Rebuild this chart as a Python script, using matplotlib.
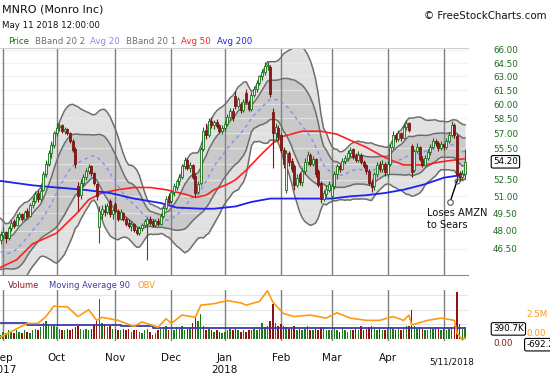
import matplotlib
matplotlib.use('Agg')
import matplotlib.pyplot as plt
import matplotlib.transforms as mtransforms
from matplotlib.ticker import NullLocator, NullFormatter
import numpy as np
import pandas as pd

# trading calendar
holidays = ['2017-09-04', '2017-11-23', '2017-12-25', '2018-01-01',
            '2018-01-15', '2018-02-19', '2018-03-30']
days = pd.bdate_range('2017-08-31', '2018-05-11')
days = days[~days.isin(pd.to_datetime(holidays))]

# closes of the 20 sessions before the chart (for the 20-day bands)
aug_closes = [49.5, 49.0, 48.6, 48.0, 47.2, 46.5, 45.8, 45.2, 44.6, 44.3,
              44.0, 44.5, 45.0, 45.3, 45.8, 46.0, 46.4, 46.8, 47.0, 47.3]

opens = [
    47.2, 47.6, 47.9, 47.4, 48.2, 48.8, 48.5, 49.2, 49.4, 49.0, 49.7, 49.3, 50.2, 50.6, 51.3, 50.8, 51.6, 53.0, 54.0, 55.0, 55.8,
    57.0, 57.6, 57.8, 57.2, 57.4, 57.0, 56.2, 55.4, 51.9, 51.1, 52.2, 52.8, 53.3, 53.8, 53.1, 52.1, 48.3, 49.4, 49.8, 49.6, 50.6, 49.4,
    50.3, 49.7, 49.0, 49.5, 49.0, 48.7, 48.4, 48.6, 48.1, 47.8, 48.2, 48.5, 48.6, 49.0, 48.8, 48.5, 48.8, 48.6, 49.3, 50.0, 51.0,
    50.6, 51.4, 51.8, 52.4, 52.8, 53.8, 54.4, 53.6, 53.9, 52.9, 51.4, 52.2, 55.4, 57.3, 56.8, 58.2, 57.8, 58.1, 57.8, 57.2,
    57.5, 57.9, 58.7, 59.3, 60.9, 59.8, 60.0, 59.4, 61.2, 60.2, 59.5, 61.0, 61.6, 62.3, 63.0, 63.5, 64.2, 64.0, 59.2, 57.0, 57.5,
    56.8, 55.3, 51.6, 55.0, 54.3, 53.8, 52.0, 53.0, 52.3, 53.3, 54.2, 54.9, 54.0, 54.5, 53.3, 52.2, 50.8, 51.2, 51.6,
    51.0, 51.9, 53.0, 53.8, 53.5, 54.3, 54.6, 55.0, 55.4, 54.8, 54.4, 54.9, 54.2, 53.9, 53.3, 52.3, 51.9, 53.0, 54.0, 53.5, 54.0,
    53.0, 54.0, 55.6, 56.8, 56.4, 57.0, 56.5, 57.6, 58.0, 55.7, 53.4, 55.2, 55.6, 54.5, 53.9, 54.6, 55.1, 55.6, 56.2, 56.0, 55.5,
    55.9, 55.6, 56.2, 56.8, 57.8, 56.7, 53.1, 52.8, 53.0,
]
highs = [
    48.0, 48.3, 48.0, 48.4, 48.9, 49.0, 49.4, 49.6, 49.5, 49.8, 50.0, 50.4, 50.9, 51.5, 51.6, 51.8, 53.3, 54.4, 55.3, 56.2, 57.2,
    58.0, 58.0, 57.9, 57.6, 57.5, 57.1, 56.4, 55.6, 52.3, 52.6, 53.0, 53.6, 54.0, 53.9, 53.2, 52.2, 50.1, 50.2, 50.3, 50.4, 50.8, 50.0,
    50.5, 49.9, 49.9, 49.6, 49.2, 49.0, 48.8, 48.7, 48.3, 48.4, 48.7, 49.0, 49.2, 49.3, 49.0, 49.0, 49.1, 49.5, 50.2, 51.0, 51.3,
    51.6, 52.2, 52.6, 53.0, 54.0, 54.7, 54.6, 54.2, 54.0, 53.1, 52.4, 55.6, 57.6, 58.0, 58.5, 58.6, 58.3, 58.4, 57.9, 57.8,
    58.2, 59.0, 59.6, 59.6, 61.4, 60.8, 60.2, 60.5, 61.6, 60.4, 61.3, 61.9, 62.6, 63.2, 63.8, 64.6, 64.6, 64.3, 59.6, 58.0, 57.8,
    57.0, 55.6, 55.3, 55.2, 54.6, 54.0, 53.0, 53.2, 53.6, 54.6, 55.2, 55.0, 54.8, 54.6, 53.5, 52.4, 51.6, 52.0, 52.4,
    52.2, 53.3, 54.0, 54.0, 54.6, 54.9, 55.3, 55.6, 55.5, 55.0, 55.2, 55.0, 54.4, 54.0, 53.5, 52.6, 53.2, 54.2, 54.3, 54.4, 54.2,
    54.3, 55.9, 57.2, 57.0, 57.3, 57.1, 57.9, 58.3, 58.1, 55.9, 55.4, 56.0, 55.7, 54.8, 54.9, 55.4, 55.9, 56.5, 56.4, 56.2, 56.2,
    56.0, 56.5, 57.1, 58.2, 58.0, 56.9, 53.3, 53.4, 55.4,
]
lows = [
    46.9, 47.3, 47.0, 47.2, 48.0, 48.2, 48.4, 48.9, 48.8, 48.9, 49.1, 49.2, 50.0, 50.4, 50.5, 50.6, 51.5, 52.8, 53.8, 54.6, 55.5,
    56.7, 57.2, 57.0, 56.9, 56.8, 56.0, 55.1, 53.6, 49.7, 50.8, 51.9, 52.5, 53.0, 52.9, 52.0, 50.7, 47.0, 49.0, 49.3, 49.4, 49.2, 49.0,
    49.5, 48.8, 48.9, 48.8, 48.4, 48.2, 48.0, 47.9, 47.6, 47.6, 48.0, 48.3, 45.6, 48.5, 48.3, 48.3, 48.4, 48.5, 49.1, 49.8, 50.3,
    50.4, 51.0, 51.6, 52.0, 52.6, 53.5, 53.4, 53.2, 52.6, 50.9, 51.2, 52.0, 55.2, 56.4, 56.6, 57.5, 57.4, 57.5, 57.0, 56.9,
    57.2, 57.7, 58.3, 58.2, 59.5, 59.6, 59.1, 59.2, 60.0, 59.3, 59.3, 60.7, 61.3, 62.0, 62.6, 63.2, 63.7, 60.8, 53.6, 56.3, 56.2,
    55.0, 53.6, 51.3, 53.8, 53.2, 51.6, 51.8, 52.0, 51.9, 53.0, 53.9, 53.8, 53.8, 52.8, 51.8, 50.4, 50.6, 50.9, 51.4,
    50.7, 51.7, 52.6, 53.2, 53.4, 54.0, 54.3, 54.7, 54.5, 54.2, 54.2, 54.0, 53.6, 53.0, 52.0, 51.4, 51.6, 52.8, 53.2, 53.2, 52.9,
    52.8, 53.8, 55.4, 56.1, 56.2, 56.2, 56.4, 57.3, 57.1, 52.8, 53.2, 55.0, 54.3, 53.7, 53.8, 54.4, 54.9, 55.4, 55.7, 55.2, 55.3,
    55.3, 55.4, 56.0, 56.6, 56.5, 52.4, 52.4, 52.5, 52.6,
]
closes = [
    47.6, 47.9, 47.4, 48.2, 48.7, 48.4, 49.2, 49.4, 49.0, 49.6, 49.3, 50.2, 50.6, 51.2, 50.8, 51.5, 53.0, 54.0, 55.0, 55.8, 57.0,
    57.5, 57.7, 57.2, 57.4, 57.0, 56.2, 55.3, 54.0, 51.0, 52.2, 52.8, 53.3, 53.7, 53.1, 52.2, 51.0, 49.7, 49.9, 49.6, 50.1, 49.4, 49.8,
    49.7, 49.0, 49.6, 49.0, 48.6, 48.4, 48.6, 48.1, 47.8, 48.2, 48.5, 48.8, 49.0, 48.7, 48.5, 48.8, 48.6, 49.3, 50.0, 50.8, 50.5,
    51.4, 51.9, 52.4, 52.8, 53.8, 54.4, 53.6, 53.9, 52.8, 51.3, 52.1, 55.4, 57.2, 56.8, 58.2, 57.8, 58.1, 57.7, 57.2, 57.5,
    57.9, 58.7, 59.3, 58.5, 59.8, 60.5, 59.4, 60.2, 60.2, 59.5, 61.0, 61.6, 62.3, 63.0, 63.5, 64.2, 64.3, 61.1, 57.0, 57.6, 56.6,
    55.3, 54.0, 55.0, 54.2, 53.5, 52.0, 52.7, 52.3, 53.3, 54.2, 54.9, 54.0, 54.5, 53.0, 52.0, 50.8, 51.3, 51.7, 52.1,
    51.9, 53.0, 53.8, 53.5, 54.3, 54.6, 55.0, 55.3, 54.7, 54.4, 54.9, 54.2, 53.8, 53.3, 52.2, 51.8, 53.0, 53.9, 53.5, 54.0, 53.2,
    54.0, 55.6, 56.8, 56.4, 57.0, 56.5, 57.6, 58.0, 57.3, 53.2, 55.2, 55.6, 54.5, 53.9, 54.6, 55.1, 55.6, 56.2, 56.0, 55.5, 55.9,
    55.6, 56.2, 56.8, 57.8, 56.8, 53.0, 52.8, 53.0, 54.2,
]
# volume in millions of shares
volumes = [
    0.15, 0.25, 0.2, 0.3, 0.25, 0.2, 0.3, 0.25, 0.2, 0.3, 0.25, 0.22, 0.3, 0.35, 0.3, 0.4, 0.55, 0.6, 0.5, 0.45, 0.45,
    0.4, 0.35, 0.3, 0.3, 0.35, 0.3, 0.35, 0.4, 0.45, 0.35, 0.3, 0.35, 0.3, 0.35, 0.5, 0.6, 1.35, 0.55, 0.5, 0.4, 0.45, 0.35,
    0.35, 0.3, 0.3, 0.35, 0.3, 0.35, 0.25, 0.3, 0.3, 0.25, 0.2, 0.3, 0.35, 0.25, 0.15, 0.2, 0.3, 0.35, 0.4, 0.45, 0.3,
    0.35, 0.3, 0.4, 0.35, 0.45, 0.3, 0.35, 0.4, 0.55, 0.75, 0.6, 0.85, 0.45, 0.3, 0.35, 0.3, 0.25, 0.3, 0.25, 0.2,
    0.25, 0.3, 0.35, 0.3, 0.35, 0.3, 0.25, 0.3, 0.25, 0.3, 0.3, 0.35, 0.3, 0.35, 0.55, 0.4, 0.45, 0.6, 1.2, 0.55, 0.45,
    0.5, 0.45, 0.4, 0.35, 0.4, 0.45, 0.3, 0.35, 0.3, 0.35, 0.45, 0.3, 0.3, 0.35, 0.3, 0.4, 0.35, 0.3, 0.3,
    0.3, 0.35, 0.3, 0.25, 0.35, 0.3, 0.25, 0.3, 0.3, 0.35, 0.3, 0.45, 0.3, 0.35, 0.4, 0.45, 0.35, 0.3, 0.35, 0.3, 0.3,
    0.35, 0.4, 0.35, 0.3, 0.35, 0.3, 0.4, 0.45, 0.45, 1.0, 0.45, 0.35, 0.4, 0.35, 0.3, 0.3, 0.35, 0.35, 0.4, 0.35, 0.3,
    0.35, 0.3, 0.35, 0.4, 0.45, 1.6, 0.5, 0.35, 0.4,
]

# moving averages (session number, value)
ma50_days = [0, 6, 12, 21, 29, 33, 38, 44, 50, 56, 62, 69, 73, 77, 80, 85, 88, 92, 98, 102,
             106, 113, 120, 126, 131, 137, 144, 151, 159, 165, 174]
ma50_vals = [45.0, 45.6, 46.9, 47.8, 49.6, 50.7, 51.3, 51.6, 51.8, 51.8, 51.6, 51.2, 50.9, 51.1, 51.6,
             52.1, 52.5, 53.4, 55.0, 56.0, 56.7, 57.2, 57.2, 56.9, 56.3, 55.6, 54.6, 53.9, 53.9, 54.2, 54.5]
ma200_days = [0, 12, 21, 31, 41, 50, 60, 66, 75, 80, 88, 94, 101, 111, 124, 131, 137, 144, 151, 159, 166, 174]
ma200_vals = [52.4, 52.0, 51.8, 51.6, 51.3, 50.8, 50.4, 50.0, 49.9, 49.9, 50.1, 50.5, 50.8, 50.8, 50.8,
              51.0, 51.1, 51.3, 51.6, 52.1, 52.7, 53.0]
ma90_days = [0, 10, 45, 57, 174]
ma90_vals = [0.53, 0.49, 0.44, 0.39, 0.39]
obv_days = [0, 5, 10, 14, 17, 20, 22, 25, 29, 33, 36, 38, 44, 50, 53, 59, 62, 64, 68, 73, 75, 80, 85, 90,
            92, 97, 100, 102, 106, 110, 116, 122, 126, 131, 137, 142, 147, 151, 153, 154, 160, 165, 170,
            171, 172, 173, 174]
obv_vals = [-0.6, 0.3, 1.2, 1.2, 2.1, 3.5, 3.4, 3.4, 2.1, 3.0, 1.6, 2.0, 1.6, 0.8, 1.4, 0.7, 1.8, 1.2,
            2.3, 2.0, 3.6, 3.8, 4.2, 3.9, 3.6, 4.1, 5.5, 4.0, 2.5, 2.1, 2.3, 1.9, 2.6, 1.9, 1.6, 1.6,
            2.1, 1.6, 2.3, 1.0, 1.6, 1.9, 1.6, -0.1, -0.5, -1.0, -0.69]

price_ticks = [46.5, 48.0, 49.5, 51.0, 52.5, 54.0, 55.5, 57.0, 58.5, 60.0, 61.5, 63.0, 64.5, 66.0]
price_labels = ['46.50', '48.00', '49.50', '51.00', '52.50', '', '55.50', '57.00', '58.50',
                '60.00', '61.50', '63.00', '64.50', '66.00']
vol_ticks = [0.5, 1.0, 1.5]
vol_labels = ['500.0K', '1.0M', '1.5M']
obv_ticks = [0, 2.5]
obv_labels = ['0.00', '2.5M']

opens = np.array(opens); closes = np.array(closes)
highs = np.array(highs); lows = np.array(lows)
volumes = np.array(volumes)
x = np.arange(len(closes))

# bollinger bands (20, 1 and 2 std)
allc = pd.Series(aug_closes + list(closes))
mid = allc.rolling(20).mean().values[20:]
sd = allc.rolling(20).std(ddof=0).values[20:]

W, H = 550, 375
fig = plt.figure(figsize=(W / 100, H / 100), dpi=100)
fig.patch.set_facecolor('white')

def fx(px):
    return px / W

def fy(py):
    return 1 - py / H

ax = fig.add_axes([0, fy(275), fx(468), (275 - 48) / H])
axv = fig.add_axes([0, fy(341), fx(468), (341 - 290) / H])

xlim = (-0.2, 175.1)
ax.set_yscale('log')
ax.set_xlim(*xlim)
ax.set_ylim(44.4, 66.23)

# month separators
month_start = [i for i in range(1, len(days)) if days[i].month != days[i - 1].month]
for a in (ax, axv):
    for m in month_start:
        a.axvline(m, color='#808080', lw=1.0, zorder=1.6)

# bands
ax.fill_between(x, mid - 2 * sd, mid + 2 * sd, color='#e1e1e1', lw=0, zorder=1)
ax.fill_between(x, mid - sd, mid + sd, color='#c9c9c9', lw=0, zorder=1.1)
for p in price_ticks:
    ax.axhline(p, color='#ececec', lw=0.8, alpha=0.7, zorder=1.5)
for k in (-2, -1, 1, 2):
    ax.plot(x, mid + k * sd, color='#6e6e6e', lw=1.1, zorder=2)
ax.plot(x, mid, color='#8a8af0', lw=1.0, ls=(0, (2.5, 2.5)), zorder=2.1)

ax.plot(ma50_days, ma50_vals, color='#ff2020', lw=1.2, zorder=3)
ax.plot(ma200_days, ma200_vals, color='#2020f0', lw=1.3, zorder=3)

# candles
up = closes >= opens
edge = np.where(up, '#157015', '#7a1515')
face = np.where(up, '#e9f3e9', '#861c1c')
ax.vlines(x, lows, highs, colors=edge, lw=0.8, zorder=4)
body = np.maximum(np.abs(closes - opens), 0.06)
ax.bar(x, body, bottom=np.minimum(opens, closes), width=0.75, color=face,
       edgecolor=edge, lw=0.6, zorder=5)

# price axis
ax.yaxis.tick_right()
ax.set_yticks(price_ticks)
ax.set_yticklabels(price_labels)
ax.yaxis.set_minor_locator(NullLocator())
ax.yaxis.set_minor_formatter(NullFormatter())
ax.tick_params(axis='y', length=0, pad=18, labelsize=6.3, labelcolor='#1d6b1d')
ax.set_xticks([])
for s in ('left', 'right'):
    ax.spines[s].set_visible(False)
ax.spines['top'].set_color('#cfcfcf')
ax.spines['bottom'].set_color('#8a8a8a')
ax.annotate('%.2f' % closes[-1], xy=(1, closes[-1]), xycoords=('axes fraction', 'data'),
            xytext=(18, 0), textcoords='offset points', ha='left', va='center',
            fontsize=6.3, color='black',
            bbox=dict(boxstyle='round,pad=0.2', fc='white', ec='black', lw=0.8))

# annotation
ax.annotate('', xy=(171, lows[171]), xytext=(-5, -15), textcoords='offset points',
            arrowprops=dict(arrowstyle='-', color='black', lw=1.0, shrinkA=0, shrinkB=0), zorder=6)
ax.plot([171], [lows[171]], 'o', ms=3.5, mfc='none', mec='#555555', mew=0.8, zorder=6)
off = mtransforms.offset_copy(ax.transData, fig=fig, x=-5, y=-15, units='points')
ax.plot([171], [lows[171]], 'o', ms=4, mfc='white', mec='#555555', mew=0.8,
        transform=off, zorder=6, clip_on=False)
ax.text(159.9, 50.0, 'Loses AMZN\nto Sears', fontsize=7.1, va='top', ha='left',
        linespacing=1.3, color='#111111', zorder=6)

# volume panel
axv.set_xlim(*xlim)
axv.set_ylim(-0.07, 1.67)
for v in vol_ticks:
    axv.axhline(v, color='#e6e6e6', lw=0.8, zorder=0.5)
vcol = np.where(up, '#1a7d1a', '#8e1414')
axv.bar(x, volumes, width=0.55, color=vcol, lw=0, zorder=2)
axv.plot(ma90_days, ma90_vals, color='#3c3ca6', lw=1.3, drawstyle='steps-post', zorder=3)
axv.yaxis.tick_right()
axv.set_yticks(vol_ticks)
axv.set_yticklabels(vol_labels)
axv.tick_params(axis='y', length=0, pad=18, labelsize=6.3, labelcolor='#8b1a1a')
axv.set_xticks([])
for s in axv.spines.values():
    s.set_visible(False)
axv.annotate('0.00', xy=(1, 0), xycoords=('axes fraction', 'data'),
             xytext=(18, -3), textcoords='offset points', ha='left', va='center',
             fontsize=6.3, color='#8b1a1a', annotation_clip=False)
axv.annotate('390.7K', xy=(1, ma90_vals[-1]), xycoords=('axes fraction', 'data'),
             xytext=(18, -1), textcoords='offset points', ha='left', va='center',
             fontsize=6.3, color='black', zorder=10,
             bbox=dict(boxstyle='round,pad=0.2', fc='white', ec='black', lw=0.8))

axo = axv.twinx()
axo.set_xlim(*xlim)
axo.set_ylim(-1.12, 5.6)
axo.plot(obv_days, obv_vals, color='#ff9a10', lw=1.2, zorder=3)
axo.set_yticks(obv_ticks)
axo.set_yticklabels(obv_labels)
axo.tick_params(axis='y', length=0, pad=42, labelsize=6.3, labelcolor='#ff9a10')
for s in axo.spines.values():
    s.set_visible(False)
axo.annotate('-692.2K', xy=(1, obv_vals[-1]), xycoords=('axes fraction', 'data'),
             xytext=(42, -5), textcoords='offset points', ha='left', va='center',
             fontsize=6.3, color='black',
             bbox=dict(boxstyle='round,pad=0.2', fc='white', ec='black', lw=0.8))

# bottom date labels
tr = mtransforms.blended_transform_factory(axv.transData, fig.transFigure)
for m in month_start[:-1]:
    axv.text(m, fy(358), days[m].strftime('%b'), transform=tr, ha='center', va='center',
             fontsize=7.5, color='#111111', clip_on=False)
axv.text(month_start[0], fy(370), days[month_start[0]].strftime('%Y'), transform=tr,
         ha='center', va='center', fontsize=7.5, color='#111111', clip_on=False)
jan = [m for m in month_start if days[m].month == 1][0]
axv.text(jan, fy(370), days[jan].strftime('%Y'), transform=tr,
         ha='center', va='center', fontsize=7.5, color='#111111', clip_on=False)
fig.text(fx(452), fy(362), days[-1].strftime('%-m/%-d/%Y'), ha='center', va='center',
         fontsize=6.3, color='#111111')

# header
fig.text(fx(2), fy(9), 'MNRO (Monro Inc)', fontsize=8, va='center', color='#111111')
fig.text(fx(2), fy(25), 'May 11 2018 12:00:00', fontsize=6.2, va='center', color='#111111')
fig.text(fx(547), fy(16), '\u00a9 FreeStockCharts.com', fontsize=7.4, ha='right', va='center',
         color='#111111')
legend_items = [('Price', '#1d6b1d', 8), ('BBand 20 2', '#707070', 35), ('Avg 20', '#8a8af0', 90),
                ('BBand 20 1', '#707070', 126), ('Avg 50', '#ff2020', 181), ('Avg 200', '#2020f0', 217)]
for txt, c, px in legend_items:
    fig.text(fx(px), fy(41), txt, fontsize=6.2, va='center', color=c)
vol_legend = [('Volume', '#8b1a1a', 8), ('Moving Average 90', '#3c3ca6', 49), ('OBV', '#ff9a10', 137)]
for txt, c, px in vol_legend:
    fig.text(fx(px), fy(285), txt, fontsize=6.0, va='center', color=c)

fig.savefig('out.png', dpi=100, facecolor='white')
